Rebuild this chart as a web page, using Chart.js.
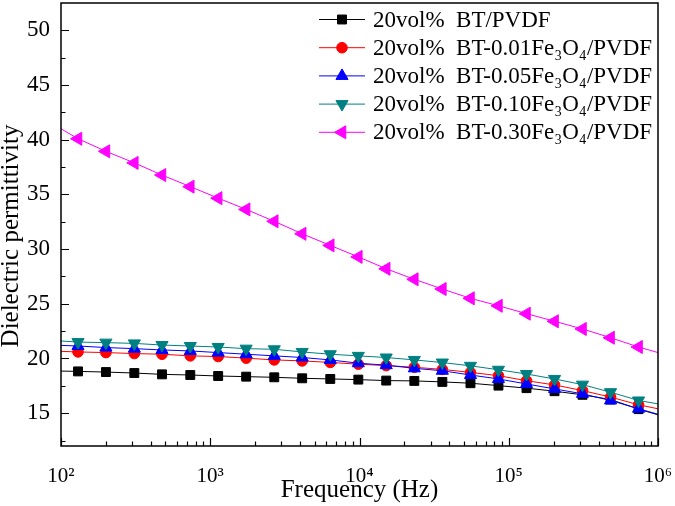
<!DOCTYPE html>
<html>
<head>
<meta charset="utf-8">
<script src="https://cdn.jsdelivr.net/npm/chart.js@4.4.1/dist/chart.umd.min.js"></script>
<style>
  html, body { margin: 0; padding: 0; background: #ffffff; }
  #wrap { width: 675px; height: 506px; }
</style>
</head>
<body>
<div id="wrap"><canvas id="c" width="675" height="506"></canvas></div>
<script>
// ---- data ----
// first and last entries are where the drawn lines meet the plot edges (no marker)
const frequencies = [100, 130, 200, 310, 475, 735, 1130, 1740, 2685, 4130, 6370, 9820,
  15100, 23300, 35900, 55400, 85300, 131500, 202700, 312000, 481000, 741000, 1000000];

const btPVDF = [18.85, 18.82, 18.76, 18.67, 18.55, 18.49, 18.40, 18.34, 18.28, 18.19, 18.13, 18.07,
  17.98, 17.95, 17.86, 17.74, 17.52, 17.29, 17.01, 16.68, 16.25, 15.37, 14.85];

const bt001 = [20.65, 20.60, 20.54, 20.45, 20.39, 20.24, 20.18, 20.03, 19.87, 19.78, 19.64, 19.48,
  19.35, 19.20, 19.00, 18.73, 18.43, 17.97, 17.58, 17.07, 16.47, 15.77, 15.40];

const bt005 = [21.20, 21.14, 21.00, 20.90, 20.78, 20.69, 20.54, 20.39, 20.24, 20.09, 19.87, 19.57,
  19.39, 19.10, 18.88, 18.49, 18.13, 17.67, 17.22, 16.77, 16.16, 15.41, 14.90];

const bt010 = [21.60, 21.50, 21.45, 21.38, 21.23, 21.14, 21.05, 20.90, 20.84, 20.60, 20.39, 20.24,
  20.09, 19.87, 19.63, 19.33, 18.97, 18.58, 18.13, 17.61, 16.92, 16.16, 15.85];

const bt030 = [41.00, 40.09, 38.94, 37.88, 36.77, 35.71, 34.66, 33.63, 32.54, 31.40, 30.34, 29.29,
  28.20, 27.24, 26.35, 25.50, 24.82, 24.10, 23.40, 22.70, 21.90, 21.05, 20.54];

const seriesLabels = [
  '20vol%  BT/PVDF',
  '20vol%  BT-0.01Fe\u2083O\u2084/PVDF',
  '20vol%  BT-0.05Fe\u2083O\u2084/PVDF',
  '20vol%  BT-0.10Fe\u2083O\u2084/PVDF',
  '20vol%  BT-0.30Fe\u2083O\u2084/PVDF'
];

const xTickValues = [100, 1000, 10000, 100000, 1000000];
const xTickLabels = ['10\u00B2', '10\u00B3', '10\u2074', '10\u2075', '10\u2076'];
const xMinorMultipliers = [2, 3, 4, 5, 6, 7, 8, 9];
const yTickValues = [15, 20, 25, 30, 35, 40, 45, 50];
const yMinorValues = [12.5, 17.5, 22.5, 27.5, 32.5, 37.5, 42.5, 47.5];

const xTitle = 'Frequency (Hz)';
const yTitle = 'Dielectric permittivity';

// ---- styling ----
const FONT = "'Liberation Serif', 'Times New Roman', serif";
const styles = [
  { color: '#000000', pointStyle: 'rect',     rotation: 0,   radius: 6.3 },
  { color: '#ff0000', pointStyle: 'circle',   rotation: 0,   radius: 5.3 },
  { color: '#0000ff', pointStyle: 'triangle', rotation: 0,   radius: 7 },
  { color: '#008080', pointStyle: 'triangle', rotation: 180, radius: 7 },
  { color: '#ff00ff', pointStyle: 'triangle', rotation: 270, radius: 7.5 }
];
const seriesValues = [btPVDF, bt001, bt005, bt010, bt030];
const lastIdx = frequencies.length - 1;

const datasets = seriesValues.map((vals, i) => {
  const s = styles[i];
  return {
    label: seriesLabels[i],
    data: frequencies.map((f, j) => ({ x: f, y: vals[j] })),
    borderColor: s.color,
    backgroundColor: s.color,
    pointBackgroundColor: s.color,
    pointBorderColor: s.color,
    borderWidth: 1,
    pointBorderWidth: 1,
    pointStyle: s.pointStyle,
    pointRotation: s.rotation,
    pointRadius: (ctx) => (ctx.dataIndex === 0 || ctx.dataIndex === lastIdx) ? 0 : s.radius,
    pointHoverRadius: 0,
    tension: 0,
    fill: false,
    order: 5 - i
  };
});

function drawMarker(ctx, s, x, y) {
  if (Chart.helpers && Chart.helpers.drawPoint) {
    ctx.fillStyle = s.color;
    ctx.strokeStyle = s.color;
    ctx.lineWidth = 1;
    Chart.helpers.drawPoint(ctx, { pointStyle: s.pointStyle, rotation: s.rotation, radius: s.radius, borderWidth: 1 }, x, y);
  }
}

function zeroPadding(scale) {
  scale.paddingLeft = 0; scale.paddingRight = 0;
  scale.paddingTop = 0; scale.paddingBottom = 0;
}

const framePlugin = {
  id: 'frameAndTicks',
  afterDraw(chart) {
    const { ctx, chartArea: a, scales } = chart;
    const xs = scales.x, ys = scales.y;
    ctx.save();
    ctx.strokeStyle = '#000';
    ctx.lineWidth = 1.2;
    ctx.beginPath();
    xTickValues.forEach((d, k) => {
      const px = Math.round(xs.getPixelForValue(d)) + 0.5;
      ctx.moveTo(px, a.bottom); ctx.lineTo(px, a.bottom - 8);
      if (k < xTickValues.length - 1) {
        xMinorMultipliers.forEach(m => {
          const p = Math.round(xs.getPixelForValue(d * m)) + 0.5;
          ctx.moveTo(p, a.bottom); ctx.lineTo(p, a.bottom - 4.5);
        });
      }
    });
    yTickValues.forEach(v => {
      const py = Math.round(ys.getPixelForValue(v)) + 0.5;
      ctx.moveTo(a.left, py); ctx.lineTo(a.left + 8, py);
    });
    yMinorValues.forEach(v => {
      const py = Math.round(ys.getPixelForValue(v)) + 0.5;
      ctx.moveTo(a.left, py); ctx.lineTo(a.left + 4.5, py);
    });
    ctx.stroke();
    ctx.lineWidth = 1.5;
    ctx.strokeRect(a.left, a.top, a.right - a.left, a.bottom - a.top);

    // y-axis title (rotated), placed as in the reference
    ctx.save();
    ctx.translate(11, 236);
    ctx.rotate(-Math.PI / 2);
    ctx.font = '25px ' + FONT;
    ctx.fillStyle = '#000';
    ctx.textAlign = 'center';
    ctx.textBaseline = 'middle';
    ctx.fillText(yTitle, 0, 0);
    ctx.restore();

    // legend (inside plot, top right)
    const lx0 = 319, lx1 = 365, mx = 342, tx = 373, ly0 = 19.5, dy = 28.2;
    ctx.font = '23px ' + FONT;
    ctx.textBaseline = 'middle';
    ctx.textAlign = 'left';
    chart.data.datasets.forEach((ds, i) => {
      const s = styles[i];
      const y = ly0 + i * dy;
      ctx.strokeStyle = s.color;
      ctx.lineWidth = 1;
      ctx.beginPath();
      ctx.moveTo(lx0, y); ctx.lineTo(lx1, y);
      ctx.stroke();
      drawMarker(ctx, s, mx, y);
      ctx.fillStyle = '#000';
      ctx.fillText(ds.label, tx, y + 1);
    });
    ctx.restore();
  }
};

new Chart(document.getElementById('c'), {
  type: 'line',
  data: { datasets },
  options: {
    responsive: false,
    animation: false,
    devicePixelRatio: 1,
    layout: { padding: { left: 0, right: 17, top: 3, bottom: 0 } },
    plugins: { legend: { display: false }, tooltip: { enabled: false } },
    scales: {
      x: {
        type: 'logarithmic',
        min: 100, max: 1000000,
        grid: { display: false, drawTicks: false },
        border: { display: false },
        afterBuildTicks: (scale) => { scale.ticks = xTickValues.map(v => ({ value: v })); },
        ticks: {
          autoSkip: false, maxRotation: 0, minRotation: 0, padding: 18,
          color: '#000', font: { family: FONT, size: 21 },
          callback: (value) => { const k = xTickValues.indexOf(value); return k >= 0 ? xTickLabels[k] : ''; }
        },
        title: { display: true, text: xTitle, color: '#000', font: { family: FONT, size: 25 }, padding: { top: 0, bottom: 1 } },
        afterFit: (scale) => { scale.height = 60; zeroPadding(scale); }
      },
      y: {
        min: 12, max: 52.5,
        grid: { display: false, drawTicks: false },
        border: { display: false },
        afterBuildTicks: (scale) => { scale.ticks = yTickValues.map(v => ({ value: v })); },
        ticks: { autoSkip: false, padding: 11, color: '#000', font: { family: FONT, size: 23 } },
        title: { display: false, text: yTitle },
        afterFit: (scale) => { scale.width = 61; zeroPadding(scale); }
      }
    }
  },
  plugins: [framePlugin]
});
</script>
</body>
</html>
